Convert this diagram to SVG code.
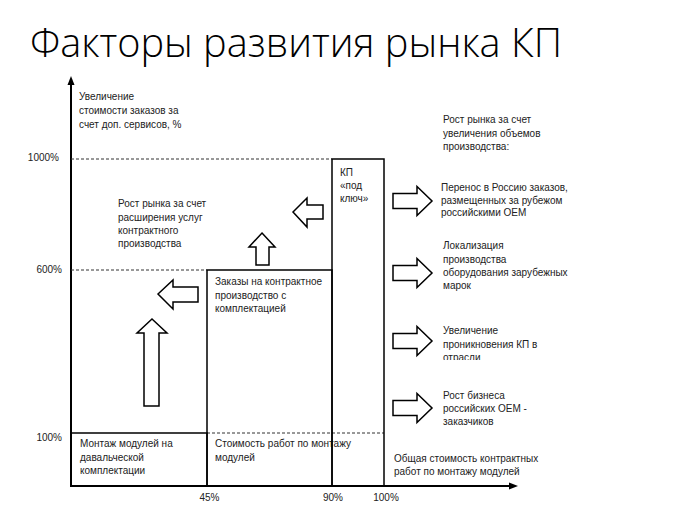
<svg xmlns="http://www.w3.org/2000/svg" width="680" height="506" viewBox="0 0 680 506">
<style>
.t{font-family:"Liberation Sans",Arial,sans-serif;font-size:10px;fill:#222}
.title{font-family:"Open Sans","Noto Sans",sans-serif;font-weight:300;font-size:41px;fill:#000}
.box{fill:none;stroke:#000;stroke-width:1.5}
.dash{fill:none;stroke:#333;stroke-width:1;stroke-dasharray:3,2}
.ax{fill:none;stroke:#000;stroke-width:2}
.ba{fill:#fff;stroke:#000;stroke-width:1.5;stroke-linejoin:miter}
</style>
<defs>
<polygon id="ra" class="ba" points="393,-7.5 417,-7.5 417,-14.5 432,0 417,14.5 417,7.5 393,7.5"/>
<clipPath id="clip3"><rect x="430" y="320" width="200" height="40"/></clipPath>
</defs>
<rect width="680" height="506" fill="#fff"/>
<text class="title" x="30" y="57" textLength="532" lengthAdjust="spacingAndGlyphs">Факторы развития рынка КП</text>

<g id="axes">
<line class="ax" x1="71" y1="486" x2="71" y2="82"/>
<polygon points="71,76 67.5,85 74.5,85" fill="#000"/>
<line class="ax" x1="70" y1="486" x2="511" y2="486"/>
<polygon points="518,486 509,482.5 509,489.5" fill="#000"/>
<text class="t" x="79" y="100">Увеличение</text>
<text class="t" x="79" y="114">стоимости заказов за</text>
<text class="t" x="79" y="127.5">счет доп. сервисов, %</text>
<text class="t" x="394" y="462">Общая стоимость контрактных</text>
<text class="t" x="394" y="475">работ по монтажу модулей</text>
<text class="t" x="59" y="161" text-anchor="end">1000%</text>
<text class="t" x="62" y="273" text-anchor="end">600%</text>
<text class="t" x="62" y="441" text-anchor="end">100%</text>
<text class="t" x="209.5" y="501" text-anchor="middle">45%</text>
<text class="t" x="333" y="501" text-anchor="middle">90%</text>
<text class="t" x="386" y="501" text-anchor="middle">100%</text>
</g>

<g id="gridlines">
<line class="dash" x1="71" y1="159" x2="332" y2="159"/>
<line class="dash" x1="71" y1="270" x2="207" y2="270"/>
<line class="dash" x1="207" y1="433" x2="384" y2="433"/>
</g>

<g id="box-montazh">
<rect class="box" x="71" y="433" width="136" height="53"/>
<text class="t" x="80" y="447">Монтаж модулей на</text>
<text class="t" x="80" y="460.5">давальческой</text>
<text class="t" x="80" y="474">комплектации</text>
</g>

<g id="box-zakazy">
<rect class="box" x="207" y="270" width="125" height="216"/>
<text class="t" x="215" y="285">Заказы на контрактное</text>
<text class="t" x="215" y="298.5">производство с</text>
<text class="t" x="215" y="312">комплектацией</text>
<text class="t" x="215" y="447">Стоимость работ по монтажу</text>
<text class="t" x="215" y="460.5">модулей</text>
</g>

<g id="box-kp">
<rect class="box" x="332" y="159" width="52" height="327"/>
<text class="t" x="340" y="176">КП</text>
<text class="t" x="340" y="189">«под</text>
<text class="t" x="340" y="202">ключ»</text>
</g>

<g id="label-rost-left">
<text class="t" x="118" y="207">Рост рынка за счет</text>
<text class="t" x="118" y="220.5">расширения услуг</text>
<text class="t" x="118" y="233.5">контрактного</text>
<text class="t" x="118" y="246.5">производства</text>
</g>

<g id="label-rost-right">
<text class="t" x="443" y="123">Рост рынка за счет</text>
<text class="t" x="443" y="136.5">увеличения объемов</text>
<text class="t" x="443" y="150">производства:</text>
</g>

<g id="factor-1">
<text class="t" x="441" y="190.5">Перенос в Россию заказов,</text>
<text class="t" x="441" y="203.5">размещенных за рубежом</text>
<text class="t" x="441" y="216">российскими ОЕМ</text>
</g>
<g id="factor-2">
<text class="t" x="443" y="249">Локализация</text>
<text class="t" x="443" y="262.5">производства</text>
<text class="t" x="443" y="276">оборудования зарубежных</text>
<text class="t" x="443" y="289">марок</text>
</g>
<g id="factor-3" clip-path="url(#clip3)">
<text class="t" x="443" y="334">Увеличение</text>
<text class="t" x="443" y="347.5">проникновения КП в</text>
<text class="t" x="443" y="361">отрасли</text>
</g>
<g id="factor-4">
<text class="t" x="443" y="398.5">Рост бизнеса</text>
<text class="t" x="443" y="411.5">российских ОЕМ -</text>
<text class="t" x="443" y="424.5">заказчиков</text>
</g>

<g id="connectors">
<polygon class="ba" points="152,319 167,333 159,333 159,406 144,406 144,333 137,333"/>
<polygon class="ba" points="158,294 173,280 173,287 198,287 198,302 173,302 173,309"/>
<polygon class="ba" points="262,233 275,247 269,247 269,265 256,265 256,247 249,247"/>
<polygon class="ba" points="293,212 307,198 307,205 323,205 323,219 307,219 307,227"/>
<use href="#ra" transform="translate(0,201)"/>
<use href="#ra" transform="translate(0,273)"/>
<use href="#ra" transform="translate(0,341)"/>
<use href="#ra" transform="translate(0,408)"/>
</g>
</svg>
